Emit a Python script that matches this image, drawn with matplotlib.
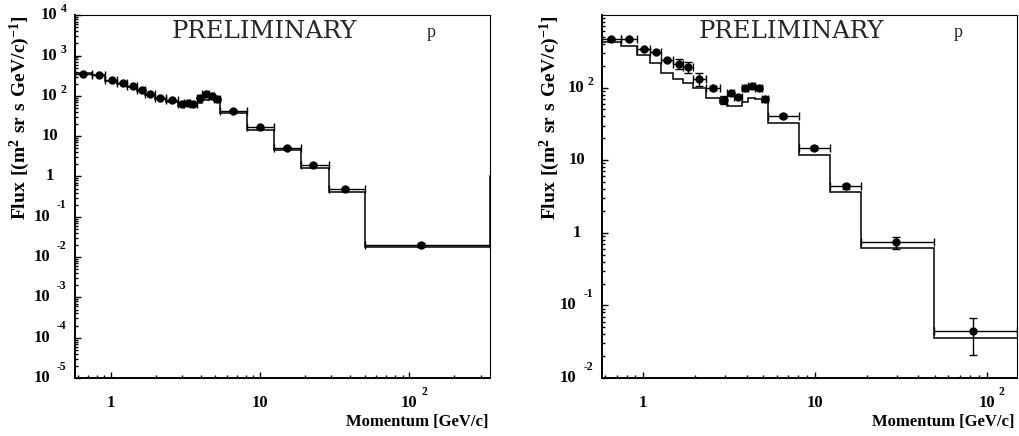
import numpy as np
import matplotlib
matplotlib.use("Agg")
import matplotlib.pyplot as plt
from matplotlib import transforms
from matplotlib.ticker import LogLocator, NullFormatter

plt.rcParams['font.family'] = ['Liberation Serif', 'DejaVu Serif']
plt.rcParams['mathtext.fontset'] = 'custom'
plt.rcParams['mathtext.rm'] = 'Liberation Serif'
plt.rcParams['mathtext.bf'] = 'Liberation Serif:bold'

# ---- left panel data ----
edges_l = [0.573, 0.74, 0.915, 1.10, 1.27, 1.49, 1.70, 1.96, 2.32, 2.80, 3.09, 3.40,
           3.74, 4.10, 4.50, 4.90, 5.35, 8.1, 12.3, 18.7, 28.7, 50.3, 347]
mom_l = [0.65, 0.83, 1.02, 1.20, 1.40, 1.61, 1.81, 2.14, 2.57, 2.97, 3.26, 3.56,
         3.92, 4.33, 4.74, 5.15, 6.54, 9.95, 15.1, 22.7, 37.0, 119]
flux_l = [349, 336, 244, 213, 176, 140, 113, 90, 79, 62, 68, 62,
          89, 110, 101, 82, 43, 16.6, 5.1, 1.93, 0.49, 0.020]
err_l = [8, 8, 6, 5, 4, 4, 3, 3, 2, 2, 2, 2, 2, 3, 3, 2, 1.2, 0.5, 0.2, 0.1, 0.03, 0.0025]
hist_l = [375, 330, 232, 200, 165, 130, 104, 83, 72, 57, 60, 56,
          68, 78, 82, 76, 37, 14.3, 4.6, 1.65, 0.42, 0.0175]
# overflow bin beyond the axis range
over_l = 1.0

# ---- right panel data ----
edges_r = [0.573, 0.74, 0.915, 1.10, 1.27, 1.49, 1.70, 1.96, 2.32, 2.80, 3.09, 3.40,
           3.74, 4.10, 4.50, 4.90, 5.35, 8.05, 12.2, 18.5, 49.5, 150]
mom_r = [0.648, 0.826, 1.01, 1.18, 1.38, 1.61, 1.83, 2.12, 2.56, 2.94, 3.23, 3.55,
         3.91, 4.30, 4.70, 5.14, 6.48, 9.87, 15.1, 29.5, 83.6]
flux_r = [465, 470, 342, 304, 239, 214, 189, 133, 98, 68, 83, 74,
          98, 104, 100, 70.5, 40.3, 14.7, 4.37, 0.738, 0.0445]
err_lo_r = [12, 12, 10, 9, 8, 34, 31, 28, 6, 8, 5, 5, 5, 5, 5, 4, 2.5, 1.0, 0.35, 0.14, 0.024]
err_hi_r = [12, 12, 10, 9, 8, 33, 35, 28, 6, 8, 5, 5, 5, 5, 5, 4, 2.5, 1.0, 0.35, 0.14, 0.0225]
hist_r = [425, 370, 282, 217, 161, 131, 115, 98, 71, 61, 56, 55,
          63, 71, 69, 64, 32, 11.7, 3.68, 0.61, 0.036]

xtitle = "Momentum [GeV/c]"
ytitle = r"$\mathbf{Flux\ [(m^{2}\ sr\ s\ GeV/c)^{-1}]}$"

fig = plt.figure(figsize=(10.19, 4.36), dpi=100)
ax_l = fig.add_axes([0.0736, 0.133, 0.4073, 0.832])
ax_r = fig.add_axes([0.5905, 0.133, 0.4073, 0.832])


def px(dx, dy):
    return transforms.ScaledTranslation(dx / 100, dy / 100, fig.dpi_scale_trans)


def decade_label(ax, v, axis):
    e = int(round(np.log10(v)))
    bold = dict(fontweight='bold', fontsize=12, color='k')
    sup = dict(fontweight='bold', fontsize=8.5, color='k')
    if axis == 'y':
        base = transforms.blended_transform_factory(ax.transAxes, ax.transData)
        if e in (0, 1):
            ax.text(0, v, "1" if e == 0 else "10", transform=base + px(-25, 0),
                    ha='center', va='center', **bold)
        else:
            d10, dex, up = (25, 18.5, 11.5) if e < 0 else (17.5, 14.5, 6)
            ax.text(0, v, "10", transform=base + px(-d10, 0), ha='right', va='center', **bold)
            ax.text(0, v, str(e), transform=base + px(-dex, up), ha='left', va='center', **sup)
    else:
        base = transforms.blended_transform_factory(ax.transData, ax.transAxes)
        if e in (0, 1):
            ax.text(v, 0, "1" if e == 0 else "10", transform=base + px(0, -25),
                    ha='center', va='center', **bold)
        else:
            ax.text(v, 0, "10", transform=base + px(0, -25), ha='center', va='center', **bold)
            ax.text(v, 0, str(e), transform=base + px(12, -13.5), ha='left', va='center', **sup)


def style(ax, xlim, ylim, ydecades, xdecades, ytx):
    ax.set_xscale('log')
    ax.set_yscale('log')
    ax.set_xlim(*xlim)
    ax.set_ylim(*ylim)
    for a in (ax.xaxis, ax.yaxis):
        a.set_major_locator(LogLocator(base=10, numticks=100))
        a.set_minor_locator(LogLocator(base=10, subs=np.arange(2, 10), numticks=100))
        a.set_minor_formatter(NullFormatter())
    ax.tick_params(which='both', direction='in', top=False, right=False,
                   labelleft=False, labelbottom=False, width=1.0, color='k')
    ax.tick_params(which='major', length=4.5)
    ax.tick_params(which='minor', length=2.3)
    for s in ('left', 'bottom'):
        ax.spines[s].set_linewidth(1.4)
    for s in ('top', 'right'):
        ax.spines[s].set_linewidth(0.8)
    for v in ydecades:
        decade_label(ax, v, 'y')
    for v in xdecades:
        decade_label(ax, v, 'x')
    ax.text(1.0, 0, xtitle, transform=ax.transAxes + px(-2, -44), ha='right', va='center',
            fontweight='bold', fontsize=12)
    ax.text(0, 1.0, ytitle, transform=ax.transAxes + px(ytx, 0), ha='center', va='top',
            rotation=90, fontsize=14)
    ax.text(0.4566, 0.954, "PRELIMINARY", transform=ax.transAxes, ha='center', va='center',
            fontsize=17.5, family='DejaVu Serif', color='#262626')
    ax.text(0.859, 0.94, "p", transform=ax.transAxes, ha='center', va='baseline',
            fontsize=13, color='#262626')


def draw(ax, edges, mom, flux, elo, ehi, hist, extra=None):
    edges = np.array(edges)
    mom = np.array(mom)
    xlo = mom - edges[:-1]
    xhi = edges[1:] - mom
    if extra is not None:
        hv = list(hist) + [extra]
        he = list(edges) + [edges[-1] * 3]
    else:
        hv, he = hist, edges
    ax.stairs(hv, he, baseline=None, color='k', lw=1.1)
    ax.errorbar(mom, flux, xerr=[xlo, xhi], yerr=[elo, ehi], fmt='o', ms=5,
                color='k', ecolor='k', elinewidth=1.0, capsize=2.6, capthick=1.0)


draw(ax_l, edges_l, mom_l, flux_l, err_l, err_l, hist_l, over_l)
draw(ax_r, edges_r, mom_r, flux_r, err_lo_r, err_hi_r, hist_r)

style(ax_l, (edges_l[0], edges_l[-1]), (1e-5, 1e4),
      [10.0 ** k for k in range(-5, 5)], [1, 10, 100], -55)
style(ax_r, (edges_r[0], edges_r[-1]), (1e-2, 990),
      [10.0 ** k for k in range(-2, 3)], [1, 10, 100], -52)

fig.savefig("out.png", dpi=100)
